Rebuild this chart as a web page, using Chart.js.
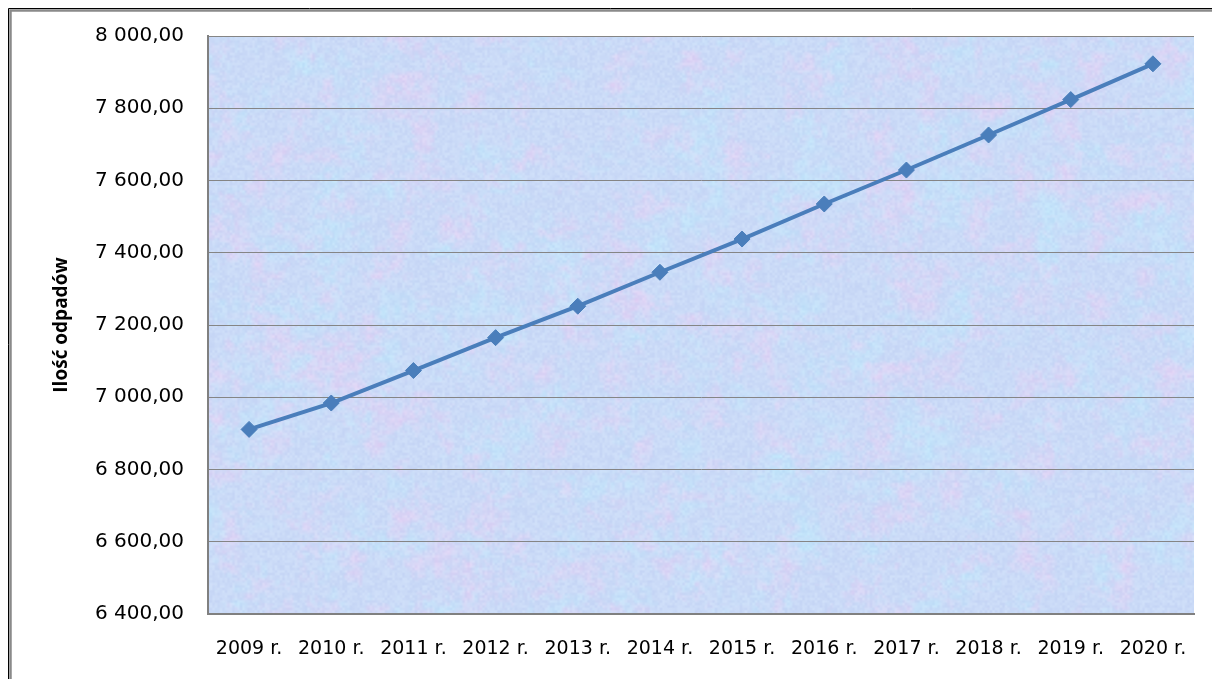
<!DOCTYPE html>
<html>
<head>
<meta charset="utf-8">
<script src="https://cdn.jsdelivr.net/npm/chart.js@4/dist/chart.umd.min.js"></script>
<style>
html,body{margin:0;padding:0;background:#fff;}
#wrap{position:relative;width:1212px;height:679px;}
</style>
</head>
<body>
<div id="wrap"><canvas id="c" width="1212" height="679"></canvas></div>
<script>
const categories = ['2009 r.','2010 r.','2011 r.','2012 r.','2013 r.','2014 r.','2015 r.','2016 r.','2017 r.','2018 r.','2019 r.','2020 r.'];
const wasteValues = [6911, 6984, 7074, 7165, 7252, 7346, 7438, 7535, 7629, 7726, 7824, 7923];
const yMin = 6400, yMax = 8000, yStep = 200;
const yTitle = 'Ilość odpadów';

function fmt(v){
  const s = Math.abs(v).toFixed(2).split('.');
  const int = s[0].replace(/\B(?=(\d{3})+(?!\d))/g,' ');
  return int + ',' + s[1];
}

// deterministic value-noise texture for the plot background
function hash(x,y,s){ const h = Math.sin(x*127.1 + y*311.7 + s*74.7)*43758.5453; return h - Math.floor(h); }
function vnoise(x,y,s){
  const ix=Math.floor(x), iy=Math.floor(y), fx=x-ix, fy=y-iy;
  const u=fx*fx*(3-2*fx), v=fy*fy*(3-2*fy);
  const a=hash(ix,iy,s), b=hash(ix+1,iy,s), c=hash(ix,iy+1,s), d=hash(ix+1,iy+1,s);
  return a+(b-a)*u+(c-a)*v+(a-b-c+d)*u*v;
}
let texture=null;
function makeTexture(w,h){
  const cv=document.createElement('canvas'); cv.width=w; cv.height=h;
  const cx=cv.getContext('2d'); const img=cx.createImageData(w,h); const d=img.data;
  for(let y=0;y<h;y++){for(let x=0;x<w;x++){
    const n1 = 0.5*vnoise(x/24,y/24,1)+0.3*vnoise(x/10,y/10,2)+0.2*vnoise(x/4,y/4,3);
    const n2 = 0.6*vnoise(x/30,y/30,4)+0.4*vnoise(x/7,y/7,5);
    const n3 = vnoise(x/2.5,y/2.5,6);
    const p = Math.max(0,Math.min(1,(n1-0.5)*2.0));
    let r = 202 + p*26, g = 218 - p*10, b = 247 - p*3;
    const cy = Math.max(0,Math.min(1,(0.5-n2)*2.0));
    r -= cy*10; g += cy*10; b += cy*3;
    const l = (n3-0.5)*12;
    const i=(y*w+x)*4;
    d[i]=Math.max(0,Math.min(255,r+l)); d[i+1]=Math.max(0,Math.min(255,g+l)); d[i+2]=Math.max(0,Math.min(255,b+l*0.4)); d[i+3]=255;
  }}
  cx.putImageData(img,0,0); return cv;
}

const bgPlugin = {
  id:'bg',
  beforeDraw(chart){
    const ctx=chart.ctx, a=chart.chartArea;
    ctx.save();
    // outer frame (left and top edges)
    ctx.strokeStyle='#000'; ctx.lineWidth=1;
    ctx.beginPath(); ctx.moveTo(8.5,700); ctx.lineTo(8.5,8.5); ctx.lineTo(1300,8.5); ctx.stroke();
    ctx.strokeStyle='#8a8a8a'; ctx.lineWidth=2.5;
    ctx.beginPath(); ctx.moveTo(10.5,700); ctx.lineTo(10.5,10.5); ctx.lineTo(1300,10.5); ctx.stroke();
    const w=Math.round(a.right-a.left), h=Math.round(a.bottom-a.top);
    if(!texture || texture.width!==w || texture.height!==h) texture=makeTexture(w,h);
    ctx.drawImage(texture, a.left, a.top);
    ctx.restore();
  }
};

new Chart(document.getElementById('c'), {
  type:'line',
  data:{
    labels: categories,
    datasets:[{
      data: wasteValues,
      borderColor:'#4a7ebb',
      backgroundColor:'#4a7ebb',
      borderWidth:4,
      pointStyle:'rectRot',
      pointRadius:8,
      pointHoverRadius:8,
      pointBorderWidth:1,
      tension:0,
      fill:false
    }]
  },
  options:{
    responsive:false,
    animation:false,
    events:[],
    layout:{padding:{left:0, top:35, right:18, bottom:0}},
    plugins:{legend:{display:false}, tooltip:{enabled:false}},
    scales:{
      x:{
        offset:true,
        grid:{display:false, drawTicks:false},
        border:{display:true, color:'#808080', width:2},
        ticks:{color:'#000', font:{family:'DejaVu Sans', size:19}, padding:24, maxRotation:0, autoSkip:false},
        afterFit(s){ s.height = 65; }
      },
      y:{
        min:yMin, max:yMax,
        grid:{color:'#858585', lineWidth:1, drawTicks:false},
        border:{display:true, color:'#808080', width:2},
        ticks:{stepSize:yStep, color:'#000', font:{family:'DejaVu Sans', size:20}, padding:24, callback:(v)=>fmt(v)},
        title:{display:true, text:yTitle, color:'#000', font:{family:'Liberation Sans Narrow, Open Sans', size:19, weight:'bold'}, padding:{top:50,bottom:0}},
        afterFit(s){ s.width = 208; }
      }
    }
  },
  plugins:[bgPlugin]
});
</script>
</body>
</html>
